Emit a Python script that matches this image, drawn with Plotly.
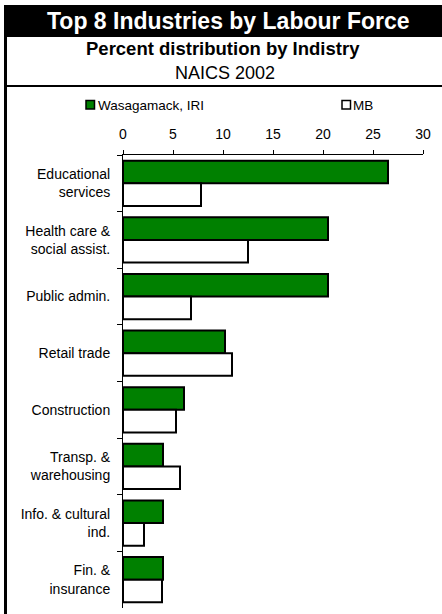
import plotly.graph_objects as go

# ---- data ----
categories = [
    "Educational<br>services",
    "Health care &<br>social assist.",
    "Public admin.",
    "Retail trade",
    "Construction",
    "Transp. &<br>warehousing",
    "Info. & cultural<br>ind.",
    "Fin. &<br>insurance",
]
series_names = ["Wasagamack, IRI", "MB"]
wasagamack = [26.5, 20.5, 20.5, 10.2, 6.1, 4.0, 4.0, 4.0]
mb = [7.8, 12.5, 6.8, 10.9, 5.3, 5.7, 2.1, 3.9]
x_ticks = [0, 5, 10, 15, 20, 25, 30]
title_text = "Top 8 Industries by Labour Force"
subtitle_text = "Percent distribution by Indistry"
subtitle2_text = "NAICS 2002"

colors = ["#008000", "#FFFFFF"]
FONT = "Liberation Sans, Arial, sans-serif"

# ---- layout geometry (pixels) ----
W, H = 442, 614
L, R, T, B = 123, 19, 155, 6
PW, PH = W - L - R, H - T - B


def px(x):
    return (x - L) / PW


def py(y):
    return (H - B - y) / PH


fig = go.Figure()
for name, vals, col in zip(series_names, [wasagamack, mb], colors):
    fig.add_trace(go.Bar(
        y=categories, x=vals, name=name, orientation="h",
        marker=dict(color=col, line=dict(color="black", width=2)),
        showlegend=False,
    ))

shapes = [
    # title bar
    dict(type="rect", xref="paper", yref="paper", x0=px(4), x1=px(443), y0=py(37), y1=py(5),
         fillcolor="black", line=dict(width=0), layer="below"),
    # left border
    dict(type="rect", xref="paper", yref="paper", x0=px(4), x1=px(7), y0=py(615), y1=py(5),
         fillcolor="black", line=dict(width=0), layer="below"),
    # separator line under header
    dict(type="rect", xref="paper", yref="paper", x0=px(4), x1=px(443), y0=py(87), y1=py(85),
         fillcolor="black", line=dict(width=0), layer="below"),
    # legend swatches
    dict(type="rect", xref="paper", yref="paper", x0=px(86), x1=px(94.5), y0=py(109), y1=py(100.5),
         fillcolor=colors[0], line=dict(color="black", width=1.5)),
    dict(type="rect", xref="paper", yref="paper", x0=px(342), x1=px(350.5), y0=py(109), y1=py(100.5),
         fillcolor=colors[1], line=dict(color="black", width=1.5)),
]

annotations = [
    dict(text=f"<b>{title_text}</b>", x=px(228), y=py(21.5), xref="paper", yref="paper",
         showarrow=False, xanchor="center", yanchor="middle",
         font=dict(size=23, color="white", family=FONT)),
    dict(text=f"<b>{subtitle_text}</b>", x=px(223), y=py(49), xref="paper", yref="paper",
         showarrow=False, xanchor="center", yanchor="middle",
         font=dict(size=18.5, color="black", family=FONT)),
    dict(text=subtitle2_text, x=px(225), y=py(73), xref="paper", yref="paper",
         showarrow=False, xanchor="center", yanchor="middle",
         font=dict(size=18, color="black", family=FONT)),
    dict(text=series_names[0], x=px(96), y=py(105), xref="paper", yref="paper",
         showarrow=False, xanchor="left", yanchor="middle",
         font=dict(size=13.5, color="black", family=FONT)),
    dict(text=series_names[1], x=px(351), y=py(105), xref="paper", yref="paper",
         showarrow=False, xanchor="left", yanchor="middle",
         font=dict(size=13.5, color="black", family=FONT)),
]

fig.update_layout(
    width=W, height=H,
    margin=dict(l=L, r=R, t=T, b=B, pad=0),
    paper_bgcolor="white", plot_bgcolor="white",
    font=dict(family=FONT, color="black", size=14),
    barmode="group", bargap=0.2, bargroupgap=0,
    shapes=shapes, annotations=annotations,
    xaxis=dict(
        side="top", range=[0, 30], tickvals=x_ticks, ticktext=[str(v) for v in x_ticks],
        showgrid=False, zeroline=False, showline=True, linecolor="black", linewidth=1,
        ticks="outside", ticklen=4, tickcolor="black", tickwidth=1,
        tickfont=dict(size=14, family=FONT, color="black"),
        ticklabelstandoff=5,
    ),
    yaxis=dict(
        autorange="reversed", type="category",
        showgrid=False, zeroline=False, showline=True, linecolor="black", linewidth=1,
        ticks="outside", ticklen=5, tickcolor="black", tickwidth=1, tickson="boundaries",
        tickfont=dict(size=14, family=FONT, color="black"),
        ticklabelstandoff=9,
    ),
)

fig.write_html(
    "out.html",
    config={"displayModeBar": False},
    post_script="document.body.style.margin='0';document.body.style.overflow='hidden';",
)
